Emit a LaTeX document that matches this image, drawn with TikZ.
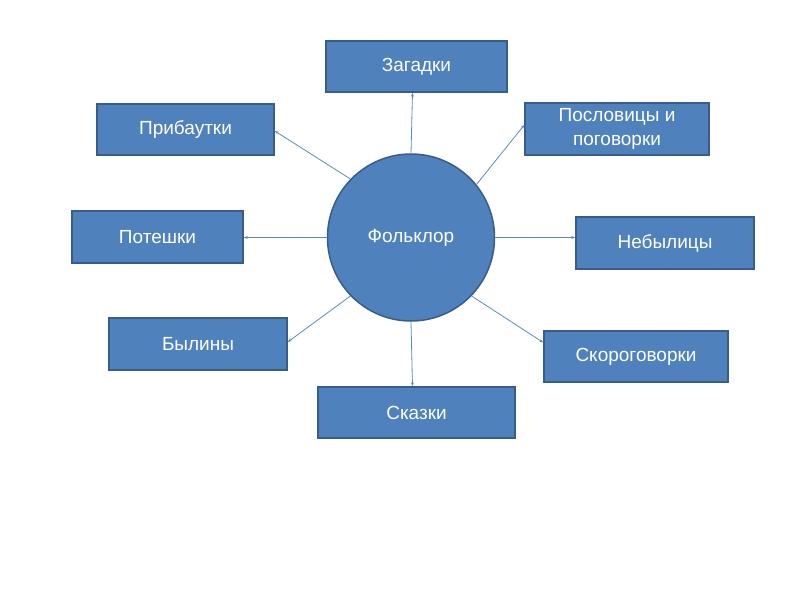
\documentclass[tikz,border=0pt]{standalone}
\usepackage{fontspec}
\setmainfont{Liberation Sans}
\usetikzlibrary{arrows.meta,calc}
\definecolor{boxfill}{HTML}{4F81BD}
\definecolor{boxline}{HTML}{385D8A}
\definecolor{conn}{HTML}{5B8AC2}
\begin{document}
\begin{tikzpicture}[x=1pt,y=-1pt,
  item/.style={draw=boxline, line width=1.5pt, fill=boxfill, text=white, minimum height=51pt, inner sep=0pt, align=center, font=\fontsize{19}{24.5}\selectfont},
  hub/.style={circle, draw=boxline, line width=1.5pt, fill=boxfill, text=white, minimum size=167pt, inner sep=0pt, font=\fontsize{19}{24}\selectfont},
  link/.style={draw=conn, line width=0.8pt, -{Stealth[length=4pt,width=3pt]}}]
\useasboundingbox (0,0) rectangle (800,600);
\node[hub] (f) at (411,237.5) {Фольклор};
\node[item, minimum width=181pt] (zag) at (416.5,66.5) {Загадки};
\node[item, minimum width=177pt] (pri) at (185.5,129.5) {Прибаутки};
\node[item, minimum width=184pt, minimum height=52pt] (pos) at (617,129) {Пословицы и\\поговорки};
\node[item, minimum width=171pt, minimum height=52pt] (pot) at (157.5,237) {Потешки};
\node[item, minimum width=178pt, minimum height=52pt] (neb) at (665,243) {Небылицы};
\node[item, minimum width=178pt, minimum height=52pt] (byl) at (198,344) {Былины};
\node[item, minimum width=184pt] (sko) at (636,356.5) {Скороговорки};
\node[item, minimum width=197pt] (ska) at (416.5,412.5) {Сказки};
\draw[link] (f.north) -- ($(zag.south)+(-4,0)$);
\draw[link] (f.136) -- ($(pri.east)+(0,1.5)$);
\draw[link] (f.39) -- ($(pos.west)+(0,-4)$);
\draw[link] (f.west) -- (f.west -| pot.east);
\draw[link] (f.east) -- (f.east -| neb.west);
\draw[link] (f.224) -- ($(byl.east)+(0,-2)$);
\draw[link] (f.316) -- ($(sko.west)+(0,-14)$);
\draw[link] (f.south) -- ($(ska.north)+(-4,0)$);
\end{tikzpicture}
\end{document}
